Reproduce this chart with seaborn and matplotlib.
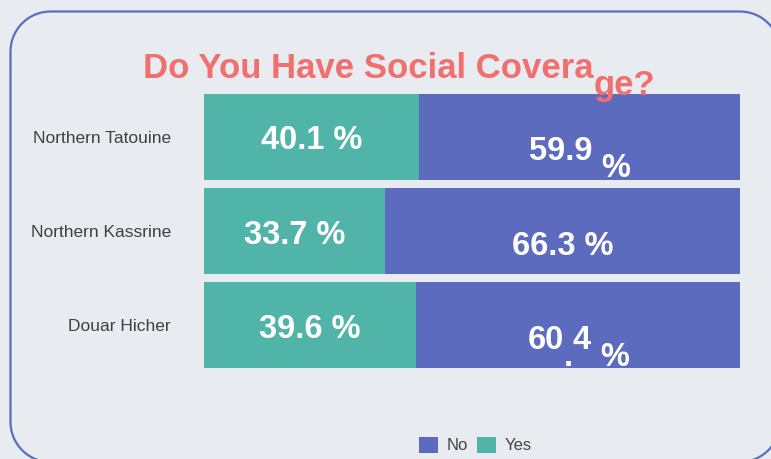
import numpy as np
import pandas as pd
import seaborn as sns
import matplotlib.pyplot as plt
from matplotlib.path import Path
from matplotlib.patches import PathPatch

places = ["Northern Tatouine", "Northern Kassrine", "Douar Hicher"]
yes = [40.1, 33.7, 39.6]
no = [59.9, 66.3, 60.4]
yes_labels = ["40.1 %", "33.7 %", "39.6 %"]
# the original renders some labels with broken baselines, so they come in parts
no_parts = [["59.9 ", "%"], ["66.3 %"], ["60", ".", "4 ", "%"]]
title_parts = ["Do You Have Social Covera", "ge?"]

# styling
BG = "#e8ecf0"
BLUE = "#5d6bbf"
TEAL = "#50b4a9"
TITLE_C = "#f07070"
BORDER = "#5670c0"
no_drops = [[0, 17], [0], [0, 17, 0, 17]]
title_drops = [0, 17]
W, H = 771, 459

sns.set_theme(style="white")
plt.rcParams["font.family"] = ["Liberation Sans", "DejaVu Sans"]

fig = plt.figure(figsize=(W / 100, H / 100), dpi=100, facecolor=BG)


def rounded_rect(x0, y0, x1, y1, r):
    pts = []
    corners = [(x1 - r, y1 - r, 0), (x0 + r, y1 - r, 90),
               (x0 + r, y0 + r, 180), (x1 - r, y0 + r, 270)]
    for cx, cy, a0 in corners:
        a = np.radians(np.linspace(a0, a0 + 90, 20))
        pts += list(zip(cx + r * np.cos(a), cy + r * np.sin(a)))
    pts.append(pts[0])
    return Path(pts)


# overlay in pixel units for the rounded frame
frame = fig.add_axes([0, 0, 1, 1], zorder=-1)
frame.set_xlim(0, W)
frame.set_ylim(0, H)
frame.axis("off")
frame.add_patch(PathPatch(rounded_rect(10.5, -3, 780, 447.5, 40), clip_on=False,
                          fill=False, edgecolor=BORDER, lw=1.6))

ax = fig.add_axes([204 / W, 91 / H, 536 / W, 274 / H])
ax.set_facecolor(BG)
ax.patch.set_alpha(0)

df = pd.DataFrame({"place": places, "yes": yes, "no": no})
df["total"] = df["yes"] + df["no"]

sns.barplot(data=df, y="place", x="total", color=BLUE, width=0.91,
            saturation=1, linewidth=0, ax=ax, label="No")
sns.barplot(data=df, y="place", x="yes", color=TEAL, width=0.91,
            saturation=1, linewidth=0, ax=ax, label="Yes")

ax.set_xlim(0, 100)
ax.set_ylim(2.455, -0.455)
ax.set_xlabel("")
ax.set_ylabel("")
ax.set_xticks([])
sns.despine(ax=ax, left=True, bottom=True)
ax.tick_params(axis="y", length=0, pad=23.8, labelsize=12.5, labelcolor="#404040")

handles, labels = ax.get_legend_handles_labels()
if ax.get_legend() is not None:
    ax.get_legend().remove()
fig.legend(handles, labels, loc="center", bbox_to_anchor=(475 / W, 14 / H),
           ncol=2, frameon=False, fontsize=12, handlelength=1.15, handleheight=1.15,
           handletextpad=0.5, columnspacing=0.55, labelcolor="#444444")

renderer = fig.canvas.get_renderer()


def text_width(s, **kw):
    t = fig.text(0, 0, "|" + s + "|", **kw)
    w1 = t.get_window_extent(renderer).width
    t.set_text("||")
    w0 = t.get_window_extent(renderer).width
    t.remove()
    return w1 - w0


def draw_pieces(x, y, parts, drops, align="center", **kw):
    widths = [text_width(p, **kw) for p in parts]
    start = x - sum(widths) / 2 if align == "center" else x
    for p, d, w in zip(parts, drops, widths):
        fig.text(start / W, (y - d) / H, p, ha="left", va="baseline", **kw)
        start += w


lab_kw = dict(fontsize=23.5, weight="bold", color="white")
for i in range(len(places)):
    cx, cy = ax.transData.transform((yes[i] / 2, i))
    draw_pieces(cx, cy - 12.5, [yes_labels[i]], [0], **lab_kw)
    cx, cy = ax.transData.transform((yes[i] + no[i] / 2, i))
    draw_pieces(cx, cy - 23.5, no_parts[i], no_drops[i], **lab_kw)

draw_pieces(143, H - 78, title_parts, title_drops, align="left",
            fontsize=25, weight="bold", color=TITLE_C)

fig.savefig("out.png", dpi=100, facecolor=BG)
